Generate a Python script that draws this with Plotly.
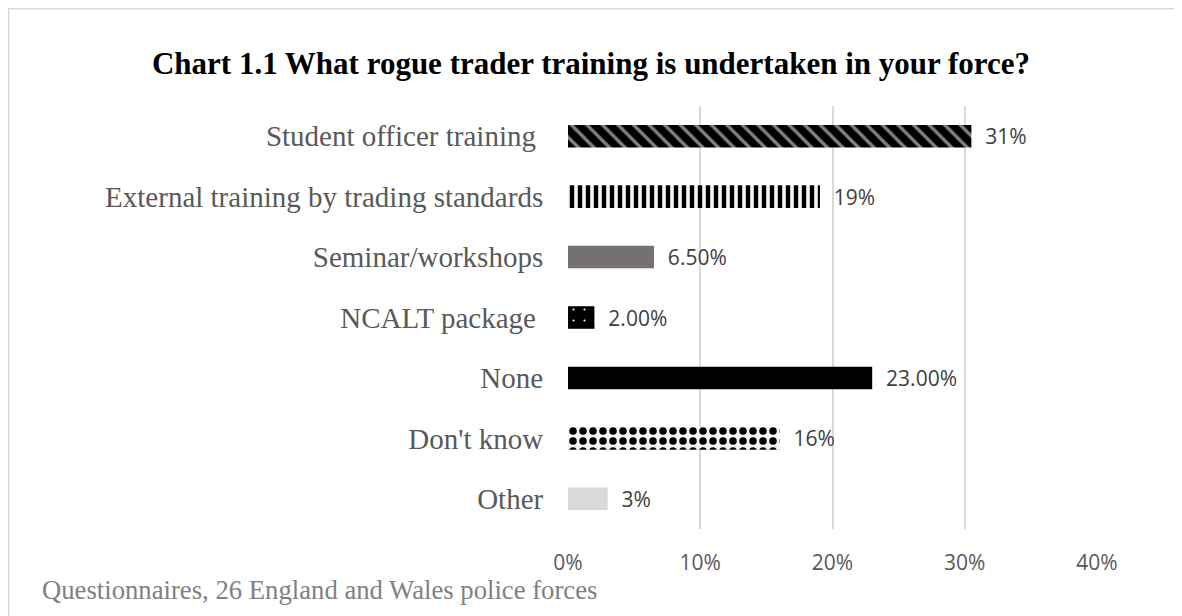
import plotly.graph_objects as go

categories = [
    "Student officer training\u00a0",
    "External training by trading standards",
    "Seminar/workshops",
    "NCALT package\u00a0",
    "None",
    "Don't know",
    "Other",
]
values = [0.305, 0.1905, 0.065, 0.02, 0.23, 0.16, 0.03]
value_labels = ["31%", "19%", "6.50%", "2.00%", "23.00%", "16%", "3%"]
x_ticks = [0, 0.1, 0.2, 0.3, 0.4]
x_tick_labels = ["0%", "10%", "20%", "30%", "40%"]

colors = ["#000000", "#f2f2f2", "#767171", "#000000", "#000000", "#f2f2f2", "#d9d9d9"]
patterns = [
    dict(shape="\\", fgcolor="#808080", bgcolor="#000000", size=11, solidity=0.3, fillmode="replace"),
    dict(shape="|", fgcolor="#000000", bgcolor="#f7f7f7", size=8, solidity=0.55, fillmode="replace"),
    dict(shape=""),
    dict(shape=".", fgcolor="#ffffff", bgcolor="#000000", size=11, solidity=0.03, fillmode="replace"),
    dict(shape=""),
    dict(shape=".", fgcolor="#000000", bgcolor="#f2f2f2", size=10, solidity=0.45, fillmode="replace"),
    dict(shape=""),
]

# page renders the figure with an 8px body margin
OFF = 8
W, H = 1182 - OFF, 616 - OFF
L, R, T, B = 568 - OFF, 85, 106 - OFF, 87
pw, ph = W - L - R, H - T - B

fig = go.Figure()
for c, v, t, col, pat in zip(categories, values, value_labels, colors, patterns):
    fig.add_trace(go.Bar(
        y=[c], x=[v], orientation="h",
        marker=dict(color=col, pattern=pat, line=dict(width=0)),
        text=["\u00a0\u00a0" + t], textposition="outside", cliponaxis=False,
        constraintext="none",
        textfont=dict(family="Open Sans", size=21, color="#404040"),
        showlegend=False,
    ))

fig.update_layout(
    width=W, height=H,
    margin=dict(l=L, r=R, t=T, b=B),
    paper_bgcolor="white", plot_bgcolor="white",
    bargap=0.627, barmode="overlay",
    title=dict(
        text="<b>Chart 1.1 What rogue trader training is undertaken in your force?</b>",
        x=(591 - OFF) / W, xref="container", xanchor="center",
        y=1 - (63 - OFF) / H, yref="container", yanchor="middle",
        font=dict(family="Liberation Serif", size=31, color="#000000"),
    ),
    xaxis=dict(
        range=[0, 0.4], tickvals=x_ticks, ticktext=x_tick_labels,
        showgrid=True, gridcolor="#d9d9d9", gridwidth=1.5,
        zeroline=False, showline=False,
        ticks="outside", ticklen=15, tickcolor="rgba(0,0,0,0)",
        tickfont=dict(family="Open Sans", size=21, color="#595959"),
        fixedrange=True,
    ),
    yaxis=dict(
        categoryorder="array", categoryarray=categories[::-1],
        showgrid=False, zeroline=False, showline=False,
        ticks="outside", ticklen=18, tickcolor="rgba(0,0,0,0)",
        tickfont=dict(family="Liberation Serif", size=29, color="#595959"),
    ),
    shapes=[dict(
        type="rect", xref="paper", yref="paper",
        x0=(0.5 - L) / pw, x1=(W + 20 - L) / pw,
        y0=-(B + 20) / ph, y1=(H - B - 0.5) / ph,
        line=dict(color="#d9d9d9", width=2), fillcolor="rgba(0,0,0,0)", layer="below",
    )],
    annotations=[dict(
        text="Questionnaires, 26 England and Wales police forces",
        xref="paper", yref="paper", x=(40 - OFF - L) / pw,
        y=((H - B) - (590 - OFF)) / ph,
        xanchor="left", yanchor="middle", showarrow=False,
        font=dict(family="Liberation Serif", size=26.7, color="#808080"),
    )],
)

fig.write_html("out.html")
